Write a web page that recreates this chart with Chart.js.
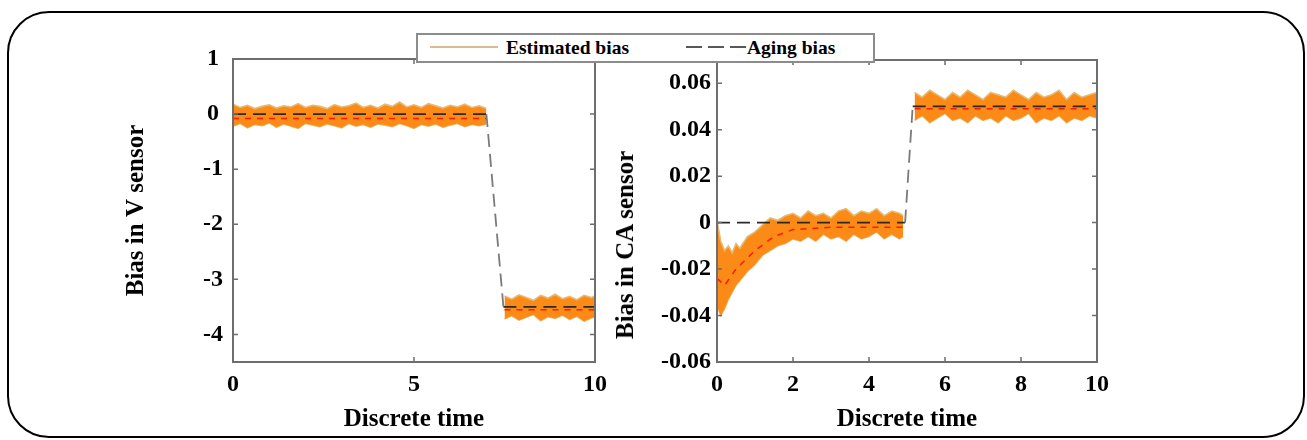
<!DOCTYPE html>
<html>
<head>
<meta charset="utf-8">
<script src="https://cdn.jsdelivr.net/npm/chart.js@4.4.1/dist/chart.umd.min.js"></script>
<style>
  body { margin: 0; background: #fff; }
  #wrap { position: relative; width: 1307px; height: 440px; overflow: hidden; }
  #frame { position: absolute; left: 7px; top: 11px; width: 1298px; height: 427px; box-sizing: border-box;
           border: 2px solid #000; border-radius: 42px; }
  canvas { position: absolute; left: 0; top: 0; }
  #legend { position: absolute; left: 416px; top: 33px; width: 459px; height: 30px; box-sizing: border-box;
            border: 2px solid #8c8c8c; background: #fff; font: bold 19.5px "Liberation Serif", "Times New Roman", serif; color: #000; }
  #legend span { position: absolute; top: 1px; line-height: 24px; white-space: nowrap; }
  #legend svg { position: absolute; top: 10px; }
  #titleCA { position: absolute; left: 625px; top: 245px; transform: translate(-50%, -50%) rotate(-90deg);
             font: bold 25px "Liberation Serif", "Times New Roman", serif; color: #000; white-space: nowrap; line-height: 30px; }
</style>
</head>
<body>
<div id="wrap">
  <div id="frame"></div>
  <canvas id="chartV" width="1307" height="440"></canvas>
  <canvas id="chartCA" width="1307" height="440"></canvas>
  <div id="titleCA">Bias in CA sensor</div>
  <div id="legend">
    <svg style="left:12px" width="70" height="4"><line x1="0" y1="2" x2="68" y2="2" stroke="#d9bb8f" stroke-width="2"/></svg>
    <span style="left:88px">Estimated bias</span>
    <svg style="left:268px" width="61" height="4"><line x1="0" y1="2" x2="61" y2="2" stroke="#222" stroke-width="1.6" stroke-dasharray="16,6"/></svg>
    <span style="left:329px">Aging bias</span>
  </div>
</div>
<script>
// ---- V sensor panel ----
const tV = [0, 0.2, 0.4, 0.6, 0.8, 1, 1.2, 1.4, 1.6, 1.8, 2, 2.2, 2.4, 2.6, 2.8, 3, 3.2, 3.4, 3.6, 3.8,
            4, 4.2, 4.4, 4.6, 4.8, 5, 5.2, 5.4, 5.6, 5.8, 6, 6.2, 6.4, 6.6, 6.8, 7.0,
            7.25,
            7.5, 7.7, 7.9, 8.1, 8.3, 8.5, 8.7, 8.9, 9.1, 9.3, 9.5, 9.7, 9.9, 10];
const upperV = [0.18, 0.12, 0.16, 0.10, 0.14, 0.17, 0.11, 0.15, 0.13, 0.19, 0.12, 0.16, 0.14, 0.10, 0.17, 0.13, 0.15, 0.20, 0.12, 0.16,
                0.11, 0.18, 0.14, 0.22, 0.13, 0.17, 0.12, 0.19, 0.15, 0.11, 0.16, 0.13, 0.18, 0.12, 0.15, 0.10,
                null,
                -3.30, -3.36, -3.28, -3.33, -3.38, -3.29, -3.34, -3.27, -3.35, -3.31, -3.37, -3.29, -3.33, -3.30];
const lowerV = [-0.22, -0.17, -0.25, -0.19, -0.21, -0.16, -0.24, -0.18, -0.22, -0.26, -0.17, -0.20, -0.23, -0.18, -0.21, -0.25, -0.17, -0.22, -0.19, -0.24,
                -0.18, -0.20, -0.23, -0.17, -0.21, -0.26, -0.19, -0.22, -0.18, -0.24, -0.20, -0.17, -0.23, -0.19, -0.21, -0.18,
                null,
                -3.72, -3.66, -3.74, -3.69, -3.64, -3.75, -3.68, -3.71, -3.65, -3.73, -3.67, -3.76, -3.70, -3.68];
const meanTV = [0, 7.0, 7.25, 7.5, 10];
const meanV = [-0.08, -0.08, null, -3.55, -3.55];
const agingTV = [0, 7.0, 7.47, 10];
const agingV = [0, 0, -3.5, -3.5];
const xTicksV = [0, 5, 10];
const yTicksV = [1, 0, -1, -2, -3, -4];

// ---- CA sensor panel ----
const tCA = [0, 0.1, 0.2, 0.3, 0.4, 0.5, 0.6, 0.8, 1.0, 1.2, 1.4, 1.6, 1.8, 2.0, 2.2, 2.4, 2.6, 2.8, 3.0, 3.2,
             3.4, 3.6, 3.8, 4.0, 4.2, 4.4, 4.6, 4.8, 4.9,
             5.05,
             5.2, 5.4, 5.6, 5.8, 6.0, 6.2, 6.4, 6.6, 6.8, 7.0, 7.2, 7.4, 7.6, 7.8, 8.0, 8.2, 8.4, 8.6, 8.8, 9.0,
             9.2, 9.4, 9.6, 9.8, 10.0];
const upperCA = [0.001, -0.008, -0.012, -0.010, -0.013, -0.009, -0.011, -0.006, -0.004, -0.001, 0.002, 0.001, 0.003, 0.004, 0.002, 0.005, 0.003, 0.004, 0.002, 0.005,
                 0.006, 0.003, 0.005, 0.004, 0.006, 0.003, 0.005, 0.004, 0.003,
                 null,
                 0.056, 0.054, 0.057, 0.055, 0.053, 0.056, 0.054, 0.057, 0.055, 0.053, 0.056, 0.055, 0.054, 0.057, 0.055, 0.053, 0.056, 0.054, 0.055, 0.057,
                 0.053, 0.056, 0.054, 0.055, 0.056];
const lowerCA = [-0.036, -0.040, -0.037, -0.033, -0.030, -0.027, -0.025, -0.021, -0.018, -0.014, -0.012, -0.010, -0.009, -0.007, -0.008, -0.006, -0.008, -0.005, -0.007, -0.006,
                 -0.008, -0.005, -0.007, -0.006, -0.004, -0.007, -0.005, -0.007, -0.006,
                 null,
                 0.044, 0.046, 0.043, 0.045, 0.047, 0.044, 0.045, 0.043, 0.046, 0.044, 0.045, 0.043, 0.046, 0.044, 0.045, 0.047, 0.043, 0.045, 0.044, 0.046,
                 0.043, 0.045, 0.044, 0.046, 0.045];
const meanTCA = [0, 0.2, 0.5, 1.0, 1.5, 2.0, 3.0, 4.9, 5.05, 5.2, 10];
const meanCA = [-0.024, -0.027, -0.020, -0.012, -0.006, -0.003, -0.002, -0.002, null, 0.049, 0.049];
const agingTCA = [0, 4.95, 5.15, 10];
const agingCA = [0, 0, 0.05, 0.05];
const xTicksCA = [0, 2, 4, 6, 8, 10];
const yTicksCA = [0.06, 0.04, 0.02, 0, -0.02, -0.04, -0.06];

const serif = '"Liberation Serif", "Times New Roman", serif';
const tickFont = { family: serif, size: 24, weight: 'bold' };
const titleFont = { family: serif, size: 25, weight: 'bold' };

const pts = (xs, ys) => xs.map((x, i) => ({ x: x, y: ys[i] }));

// box round the plot area with inward tick marks on all four sides
const framePlugin = {
    id: 'frame',
    afterDraw(chart) {
        const { ctx, chartArea: a } = chart;
        const x = chart.scales.x, y = chart.scales.y;
        ctx.save();
        ctx.strokeStyle = '#6e6e6e';
        ctx.lineWidth = 2;
        ctx.strokeRect(a.left, a.top, a.right - a.left, a.bottom - a.top);
        ctx.lineWidth = 1.5;
        ctx.beginPath();
        x.ticks.forEach(t => {
            const px = x.getPixelForValue(t.value);
            if (px <= a.left + 1 || px >= a.right - 1) return;
            ctx.moveTo(px, a.bottom); ctx.lineTo(px, a.bottom - 5);
            ctx.moveTo(px, a.top); ctx.lineTo(px, a.top + 5);
        });
        y.ticks.forEach(t => {
            const py = y.getPixelForValue(t.value);
            if (py <= a.top + 1 || py >= a.bottom - 1) return;
            ctx.moveTo(a.left, py); ctx.lineTo(a.left + 5, py);
            ctx.moveTo(a.right, py); ctx.lineTo(a.right - 5, py);
        });
        ctx.stroke();
        ctx.restore();
    }
};

function makeChart(id, p) {
    return new Chart(document.getElementById(id), {
        type: 'line',
        data: {
            datasets: [
                { data: pts(p.agingT, p.aging), borderColor: '#2a2a2a', borderWidth: 1.8, borderDash: [13, 7], pointRadius: 0, fill: false,
                  // the jump between the two levels is drawn lighter, as in the figure
                  segment: { borderColor: c => c.p0.parsed.y !== c.p1.parsed.y ? '#7a7a7a' : undefined } },
                { data: pts(p.meanT, p.mean), borderColor: '#ff1a00', borderWidth: 1.5, borderDash: [6, 6], pointRadius: 0, fill: false },
                { data: pts(p.t, p.upper), borderColor: '#e3bd78', borderWidth: 1.6, backgroundColor: '#fb8a16', pointRadius: 0, fill: '+1' },
                { data: pts(p.t, p.lower), borderColor: '#e3bd78', borderWidth: 1.6, pointRadius: 0, fill: false }
            ]
        },
        options: {
            responsive: false,
            animation: false,
            devicePixelRatio: 1,
            layout: { padding: { left: 0, right: p.padRight, top: p.padTop, bottom: 0 } },
            plugins: { legend: { display: false }, tooltip: { enabled: false } },
            scales: {
                x: {
                    type: 'linear', min: 0, max: 10,
                    afterBuildTicks: s => { s.ticks = p.xTicks.map(v => ({ value: v })); },
                    afterFit: s => { s.height = 78; },
                    grid: { display: false, drawTicks: false },
                    border: { display: false },
                    ticks: { font: tickFont, color: '#000', padding: 8, maxRotation: 0, autoSkip: false },
                    title: { display: true, text: 'Discrete time', font: titleFont, color: '#000', padding: { top: 0, bottom: 5 } }
                },
                y: {
                    type: 'linear', min: p.yMin, max: p.yMax,
                    afterBuildTicks: s => { s.ticks = p.yTicks.map(v => ({ value: v })); },
                    afterFit: s => { s.width = p.yWidth; },
                    grid: { display: false, drawTicks: false },
                    border: { display: false },
                    ticks: { font: tickFont, color: '#000', padding: p.yPad, crossAlign: p.crossAlign, autoSkip: false,
                             callback: v => String(+v.toFixed(2)) },
                    title: { display: p.yTitle !== '', text: p.yTitle, font: titleFont, color: '#000', padding: { top: p.yTitleX - 15, bottom: 0 } }
                }
            }
        },
        plugins: [framePlugin]
    });
}

makeChart('chartV', {
    t: tV, upper: upperV, lower: lowerV, meanT: meanTV, mean: meanV, agingT: agingTV, aging: agingV,
    xTicks: xTicksV, yTicks: yTicksV, yMin: -4.5, yMax: 1,
    padRight: 1307 - 595, padTop: 59, yWidth: 233, yPad: 10, crossAlign: 'center',
    yTitle: 'Bias in V sensor', yTitleX: 137
});

// the CA y title sits lower than the plot centre, so it is placed as a div above
makeChart('chartCA', {
    t: tCA, upper: upperCA, lower: lowerCA, meanT: meanTCA, mean: meanCA, agingT: agingTCA, aging: agingCA,
    xTicks: xTicksCA, yTicks: yTicksCA, yMin: -0.06, yMax: 0.07,
    padRight: 1307 - 1097, padTop: 60, yWidth: 717, yPad: 6, crossAlign: 'near',
    yTitle: '', yTitleX: 625
});
</script>
</body>
</html>
